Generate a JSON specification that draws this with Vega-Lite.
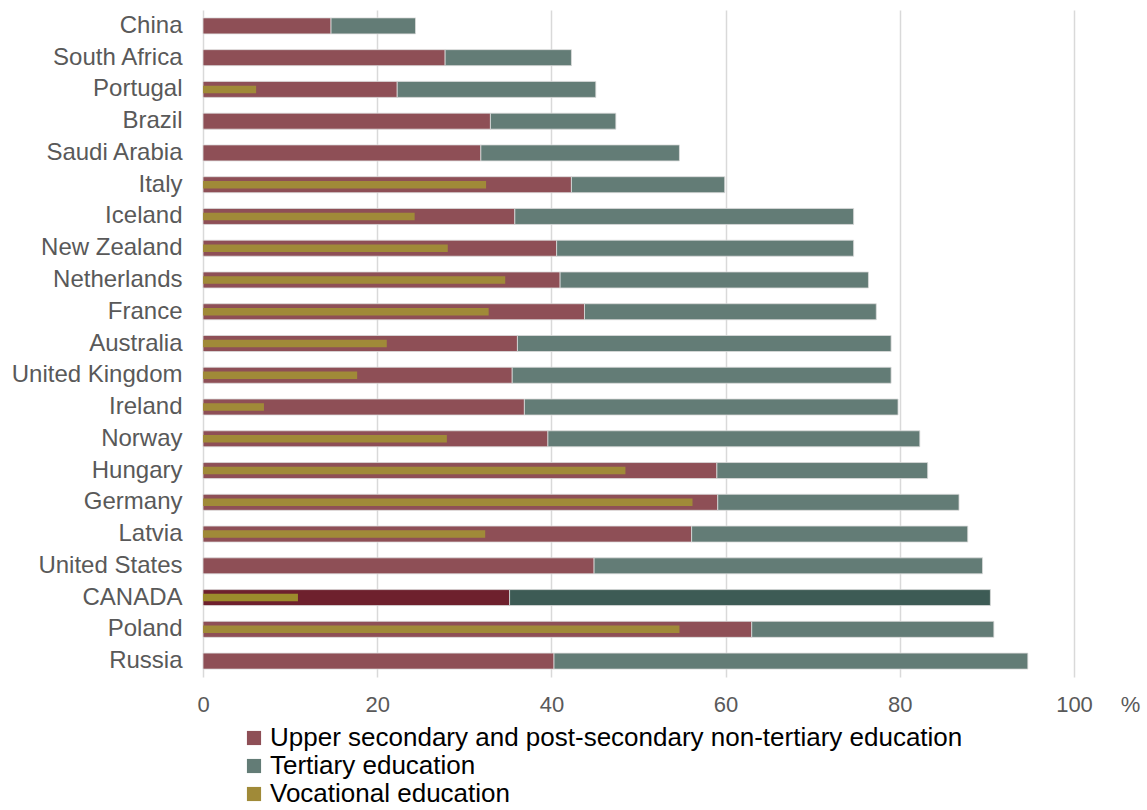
{
  "$schema": "https://vega.github.io/schema/vega-lite/v6.json",
  "autosize": {"type": "none"},
  "padding": {"left": 203, "top": 10, "right": 73, "bottom": 133},
  "width": 871,
  "height": 667,
  "background": "white",
  "config": {
    "font": "Liberation Sans",
    "view": {"stroke": null},
    "axis": {"labelFont": "Liberation Sans", "titleFont": "Liberation Sans"},
    "legend": {"labelFont": "Liberation Sans"}
  },
  "data": {
    "values": [
      {"country": "China", "upper": 14.7, "total": 24.4, "vocational": null},
      {"country": "South Africa", "upper": 27.8, "total": 42.3, "vocational": null},
      {"country": "Portugal", "upper": 22.3, "total": 45.1, "vocational": 6.1},
      {"country": "Brazil", "upper": 33.0, "total": 47.4, "vocational": null},
      {"country": "Saudi Arabia", "upper": 31.9, "total": 54.7, "vocational": null},
      {"country": "Italy", "upper": 42.3, "total": 59.9, "vocational": 32.5},
      {"country": "Iceland", "upper": 35.8, "total": 74.7, "vocational": 24.3},
      {"country": "New Zealand", "upper": 40.6, "total": 74.7, "vocational": 28.1},
      {"country": "Netherlands", "upper": 41.0, "total": 76.4, "vocational": 34.7},
      {"country": "France", "upper": 43.8, "total": 77.3, "vocational": 32.8},
      {"country": "Australia", "upper": 36.1, "total": 79.0, "vocational": 21.1},
      {"country": "United Kingdom", "upper": 35.5, "total": 79.0, "vocational": 17.7},
      {"country": "Ireland", "upper": 36.9, "total": 79.8, "vocational": 7.0},
      {"country": "Norway", "upper": 39.6, "total": 82.3, "vocational": 28.0},
      {"country": "Hungary", "upper": 59.0, "total": 83.2, "vocational": 48.5},
      {"country": "Germany", "upper": 59.1, "total": 86.8, "vocational": 56.2},
      {"country": "Latvia", "upper": 56.1, "total": 87.8, "vocational": 32.4},
      {"country": "United States", "upper": 44.9, "total": 89.5, "vocational": null},
      {"country": "CANADA", "upper": 35.2, "total": 90.4, "vocational": 10.9},
      {"country": "Poland", "upper": 63.0, "total": 90.8, "vocational": 54.7},
      {"country": "Russia", "upper": 40.3, "total": 94.7, "vocational": null}
    ]
  },
  "encoding": {
    "y": {
      "field": "country",
      "type": "nominal",
      "sort": ["China", "South Africa", "Portugal", "Brazil", "Saudi Arabia", "Italy", "Iceland", "New Zealand", "Netherlands", "France", "Australia", "United Kingdom", "Ireland", "Norway", "Hungary", "Germany", "Latvia", "United States", "CANADA", "Poland", "Russia"],
      "axis": {
        "title": null,
        "domain": false,
        "ticks": false,
        "labelFontSize": 24,
        "labelColor": "#595959",
        "labelPadding": 21
      }
    }
  },
  "layer": [
    {
      "mark": {"type": "bar", "size": 16, "stroke": "#dcdcdc", "strokeWidth": 0.8},
      "encoding": {
        "x": {
          "field": "upper",
          "type": "quantitative",
          "scale": {"domain": [0, 100]},
          "axis": {
            "values": [0, 20, 40, 60, 80, 100],
            "grid": true,
            "gridColor": "#d9d9d9",
            "gridWidth": 1.5,
            "domain": false,
            "ticks": false,
            "labelFlush": false,
            "labelFontSize": 22,
            "labelColor": "#595959",
            "labelPadding": 17,
            "title": "%",
            "titleFontSize": 22,
            "titleFontWeight": "normal",
            "titleColor": "#595959",
            "titleAnchor": null,
            "titleAlign": "center",
            "titleBaseline": "top",
            "titleX": 927,
            "titleY": 17
          }
        },
        "color": {
          "condition": {"test": "datum.country === 'CANADA'", "value": "#6E202D"},
          "datum": "Upper secondary and post-secondary non-tertiary education",
          "type": "nominal",
          "scale": {
            "domain": ["Upper secondary and post-secondary non-tertiary education", "Tertiary education", "Vocational education"],
            "range": ["#8E4F56", "#637C76", "#A08A38"]
          },
          "legend": {
            "title": null,
            "orient": "none",
            "legendX": 38,
            "legendY": 715,
            "direction": "vertical",
            "symbolType": "square",
            "symbolSize": 200,
            "symbolStrokeWidth": 0,
            "labelFontSize": 26,
            "labelColor": "#000000",
            "labelLimit": 1000,
            "rowPadding": 2,
            "labelOffset": 3
          }
        }
      }
    },
    {
      "mark": {"type": "bar", "size": 16, "stroke": "#dcdcdc", "strokeWidth": 0.8},
      "encoding": {
        "x": {"field": "upper", "type": "quantitative"},
        "x2": {"field": "total"},
        "color": {
          "condition": {"test": "datum.country === 'CANADA'", "value": "#3D5B55"},
          "datum": "Tertiary education",
          "type": "nominal"
        }
      }
    },
    {
      "mark": {"type": "bar", "size": 7.5},
      "encoding": {
        "x": {"field": "vocational", "type": "quantitative"},
        "color": {
          "condition": {"test": "datum.country === 'CANADA'", "value": "#9C8B2C"},
          "datum": "Vocational education",
          "type": "nominal"
        }
      }
    }
  ]
}
